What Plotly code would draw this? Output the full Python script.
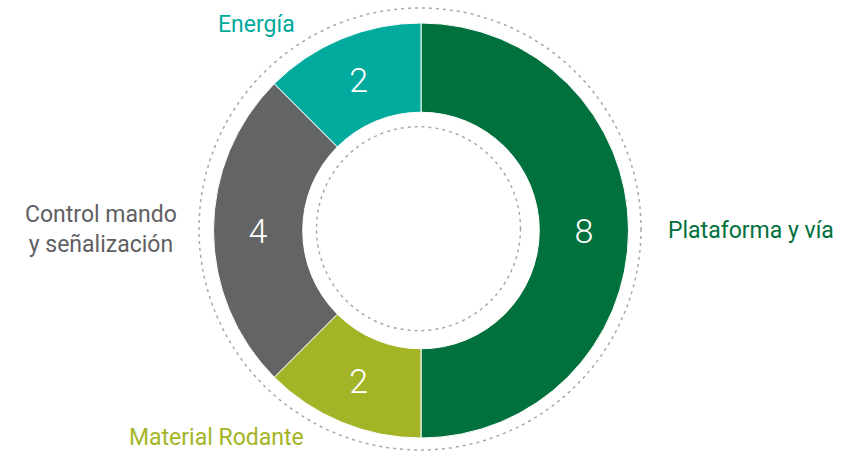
import plotly.graph_objects as go

categories = ["Plataforma y vía", "Material Rodante", "Control mando<br>y señalización", "Energía"]
values = [8, 2, 4, 2]
colors = ["#00703c", "#a3b426", "#636466", "#00aa9d"]

W, H = 861, 451
cx, cy, r = 421, 230.5, 207.5

fig = go.Figure()
fig.add_trace(go.Pie(
    labels=categories,
    values=values,
    sort=False,
    direction="clockwise",
    rotation=0,
    hole=0.57,
    marker=dict(colors=colors, line=dict(color="white", width=1)),
    texttemplate="%{value}",
    textposition="inside",
    insidetextorientation="horizontal",
    textfont=dict(color="white", size=34, family="Roboto", weight=300),
    showlegend=False,
    domain=dict(x=[(cx - r) / W, (cx + r) / W], y=[(H - cy - r) / H, (H - cy + r) / H]),
))

def circ(x, y, rad):
    return dict(type="circle", xref="paper", yref="paper",
                x0=(x - rad) / W, x1=(x + rad) / W,
                y0=(H - y - rad) / H, y1=(H - y + rad) / H,
                line=dict(color="#a3aaaa", width=1.5, dash="3px,4px"))

fig.update_layout(
    width=W, height=H,
    margin=dict(l=0, r=0, t=0, b=0),
    paper_bgcolor="white", plot_bgcolor="white",
    shapes=[circ(420, 229, 221), circ(418.5, 228.7, 102)],
)

label_pos = [
    (751, 230, colors[0]),
    (216, 437, colors[1]),
    (101, 229, "#5f6062"),
    (256, 24, colors[3]),
]
for name, (x, y, col) in zip(categories, label_pos):
    fig.add_annotation(x=x / W, y=1 - y / H, xref="paper", yref="paper",
                       xanchor="center", yanchor="middle",
                       text=name, showarrow=False, align="center",
                       font=dict(size=23, color=col, family="Roboto", weight=400))

fig.write_html("out.html", config={"displayModeBar": False},
               post_script="document.body.style.margin='0';document.body.style.overflow='hidden';")
